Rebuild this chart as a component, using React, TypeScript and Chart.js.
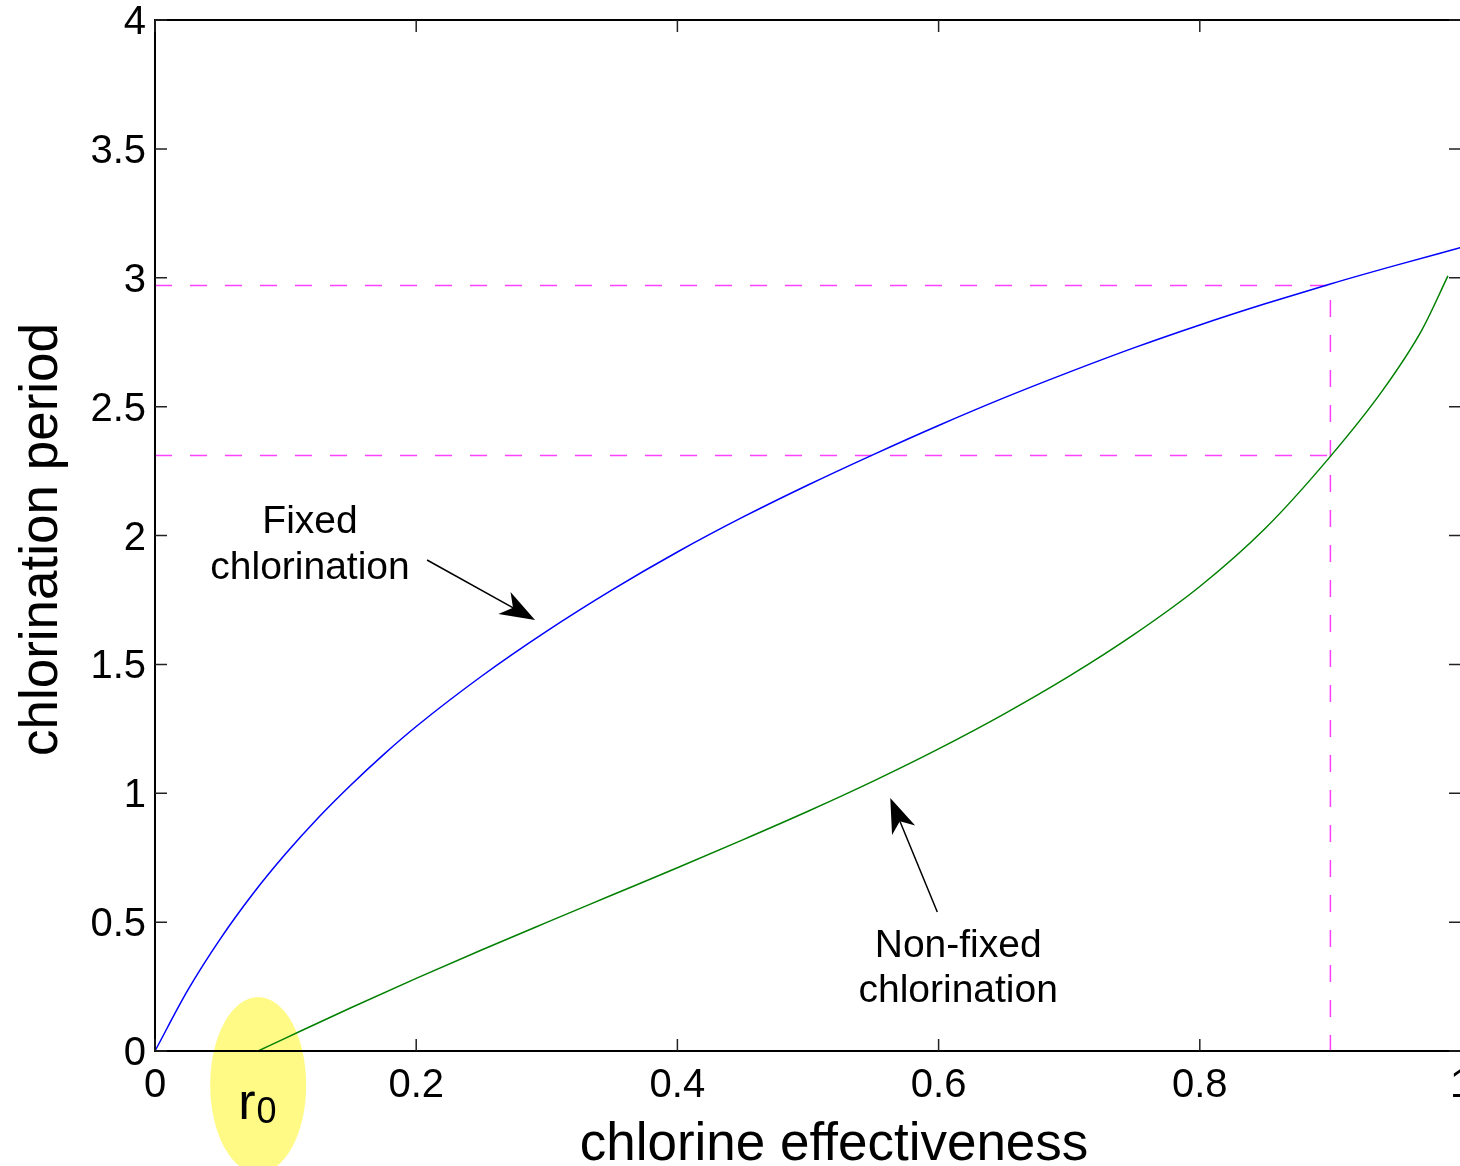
import React, { useEffect, useRef } from "react";
import { Chart, registerables } from "chart.js";

Chart.register(...registerables);

// ---- data ----
const fixedX = [0, 0.025, 0.05, 0.075, 0.1, 0.125, 0.15, 0.175, 0.2, 0.25, 0.3, 0.35, 0.4, 0.45, 0.5, 0.55, 0.6, 0.65, 0.7, 0.75, 0.8, 0.85, 0.9, 0.95, 1.0];
const fixedY = [0, 0.235, 0.435, 0.61, 0.765, 0.905, 1.032, 1.15, 1.259, 1.454, 1.629, 1.789, 1.936, 2.071, 2.196, 2.314, 2.427, 2.534, 2.634, 2.729, 2.817, 2.899, 2.976, 3.048, 3.117];

const nonFixedX = [0.079, 0.1, 0.15, 0.2, 0.25, 0.3, 0.35, 0.4, 0.45, 0.5, 0.55, 0.6, 0.65, 0.7, 0.75, 0.8, 0.85, 0.9, 0.94, 0.97, 0.99];
const nonFixedY = [0, 0.05, 0.168, 0.282, 0.392, 0.499, 0.605, 0.711, 0.819, 0.93, 1.047, 1.172, 1.307, 1.454, 1.617, 1.802, 2.027, 2.307, 2.563, 2.797, 3.007];

const xTicks = [0, 0.2, 0.4, 0.6, 0.8, 1];
const yTicks = [0, 0.5, 1, 1.5, 2, 2.5, 3, 3.5, 4];

const refX = 0.9;
const refYHigh = 2.97;
const refYLow = 2.31;
const r0Value = 0.079;

const xTitle = "chlorine effectiveness";
const yTitle = "chlorination period";
const fixedLabel = ["Fixed", "chlorination"];
const nonFixedLabel = ["Non-fixed", "chlorination"];

// ---- annotation anchors (data units) ----
const fixedText = { x: 0.1187, y1: 2.052, y2: 1.874 };
const fixedArrow = { x0: 0.2083, y0: 1.905, x1: 0.291, y1: 1.672 };
const nonFixedText = { x: 0.615, y1: 0.407, y2: 0.233 };
const nonFixedArrow = { x0: 0.599, y0: 0.539, x1: 0.563, y1: 0.982 };

const FONT = '"Liberation Sans", Arial, Helvetica, sans-serif';
const CANVAS_W = 1520;
const CANVAS_H = 1166;

const fmt = (v: number) => String(Math.round(v * 10) / 10);

function drawArrow(ctx: CanvasRenderingContext2D, x0: number, y0: number, x1: number, y1: number) {
  const ang = Math.atan2(y1 - y0, x1 - x0);
  const L = 35;
  const W = 12.5;
  const dx = Math.cos(ang), dy = Math.sin(ang);
  const px = -dy, py = dx;
  ctx.save();
  ctx.strokeStyle = "#000";
  ctx.lineWidth = 1.5;
  ctx.beginPath();
  ctx.moveTo(x0, y0);
  ctx.lineTo(x1 - dx * L * 0.7, y1 - dy * L * 0.7);
  ctx.stroke();
  ctx.fillStyle = "#000";
  ctx.beginPath();
  ctx.moveTo(x1, y1);
  ctx.lineTo(x1 - dx * L + px * W, y1 - dy * L + py * W);
  ctx.lineTo(x1 - dx * L * 0.72, y1 - dy * L * 0.72);
  ctx.lineTo(x1 - dx * L - px * W, y1 - dy * L - py * W);
  ctx.closePath();
  ctx.fill();
  ctx.restore();
}

const overlayPlugin = {
  id: "overlay",
  beforeDatasetsDraw(chart: any) {
    const ctx: CanvasRenderingContext2D = chart.ctx;
    const xs = chart.scales.x;
    const ys = chart.scales.y;
    const cx = xs.getPixelForValue(r0Value);
    const cy = ys.getPixelForValue(0) + 34;
    ctx.save();
    ctx.fillStyle = "#fffa86";
    ctx.beginPath();
    ctx.ellipse(cx, cy, 48, 88, 0, 0, Math.PI * 2);
    ctx.fill();
    ctx.restore();
  },
  afterDatasetsDraw(chart: any) {
    const ctx: CanvasRenderingContext2D = chart.ctx;
    const xs = chart.scales.x;
    const ys = chart.scales.y;
    const { left, right, top, bottom } = chart.chartArea;

    ctx.save();
    // box
    ctx.strokeStyle = "#000";
    ctx.lineWidth = 2;
    ctx.strokeRect(left, top, right - left, bottom - top);
    // inward ticks
    ctx.lineWidth = 1.5;
    ctx.strokeStyle = "#222";
    const TL = 12;
    ctx.beginPath();
    xTicks.forEach((v) => {
      const p = xs.getPixelForValue(v);
      ctx.moveTo(p, bottom);
      ctx.lineTo(p, bottom - TL);
      ctx.moveTo(p, top);
      ctx.lineTo(p, top + TL);
    });
    yTicks.forEach((v) => {
      const p = ys.getPixelForValue(v);
      ctx.moveTo(left, p);
      ctx.lineTo(left + TL, p);
      ctx.moveTo(right, p);
      ctx.lineTo(right - TL, p);
    });
    ctx.stroke();

    // annotations
    ctx.fillStyle = "#000";
    ctx.font = `39px ${FONT}`;
    ctx.textAlign = "center";
    ctx.textBaseline = "middle";
    ctx.fillText(fixedLabel[0], xs.getPixelForValue(fixedText.x), ys.getPixelForValue(fixedText.y1));
    ctx.fillText(fixedLabel[1], xs.getPixelForValue(fixedText.x), ys.getPixelForValue(fixedText.y2));
    ctx.fillText(nonFixedLabel[0], xs.getPixelForValue(nonFixedText.x), ys.getPixelForValue(nonFixedText.y1));
    ctx.fillText(nonFixedLabel[1], xs.getPixelForValue(nonFixedText.x), ys.getPixelForValue(nonFixedText.y2));

    drawArrow(
      ctx,
      xs.getPixelForValue(fixedArrow.x0),
      ys.getPixelForValue(fixedArrow.y0),
      xs.getPixelForValue(fixedArrow.x1),
      ys.getPixelForValue(fixedArrow.y1)
    );
    drawArrow(
      ctx,
      xs.getPixelForValue(nonFixedArrow.x0),
      ys.getPixelForValue(nonFixedArrow.y0),
      xs.getPixelForValue(nonFixedArrow.x1),
      ys.getPixelForValue(nonFixedArrow.y1)
    );

    // r0 label
    const rx = xs.getPixelForValue(r0Value) - 20;
    const rb = ys.getPixelForValue(0) + 68;
    ctx.textAlign = "left";
    ctx.textBaseline = "alphabetic";
    ctx.font = `52px ${FONT}`;
    ctx.fillText("r", rx, rb);
    const rw = ctx.measureText("r").width;
    ctx.font = `36px ${FONT}`;
    ctx.fillText("0", rx + rw + 1, rb + 4);
    ctx.restore();
  },
  afterDraw(chart: any) {
    const ctx: CanvasRenderingContext2D = chart.ctx;
    const { left, right, top, bottom } = chart.chartArea;
    ctx.save();
    ctx.fillStyle = "#000";
    ctx.font = `53px ${FONT}`;
    ctx.textAlign = "center";
    ctx.textBaseline = "alphabetic";
    ctx.fillText(xTitle, (left + right) / 2 + 26, bottom + 109);
    ctx.translate(57, (top + bottom) / 2 + 4);
    ctx.rotate(-Math.PI / 2);
    ctx.fillText(yTitle, 0, 0);
    ctx.restore();
  },
};

export default function App() {
  const ref = useRef<HTMLCanvasElement | null>(null);

  useEffect(() => {
    document.body.style.margin = "0";
    document.body.style.overflow = "hidden";
    const canvas = ref.current;
    if (!canvas) return;

    const toPts = (xs: number[], ys: number[]) => xs.map((x, i) => ({ x, y: ys[i] }));

    const tickFont = { family: FONT, size: 40, lineHeight: 1 };

    const zeroPad = (s: any) => {
      s.paddingTop = 0;
      s.paddingBottom = 0;
      s.paddingLeft = 0;
      s.paddingRight = 0;
    };

    const refStyle = {
      showLine: true,
      borderColor: "#ff40ff",
      borderWidth: 1.5,
      borderDash: [17, 18],
      pointRadius: 0,
    };

    const chart = new Chart(canvas, {
      type: "scatter",
      data: {
        datasets: [
          {
            label: "Fixed chlorination",
            data: toPts(fixedX, fixedY),
            showLine: true,
            borderColor: "#0000ff",
            borderWidth: 1.5,
            pointRadius: 0,
            cubicInterpolationMode: "monotone",
          },
          {
            label: "Non-fixed chlorination",
            data: toPts(nonFixedX, nonFixedY),
            showLine: true,
            borderColor: "#008000",
            borderWidth: 1.5,
            pointRadius: 0,
            cubicInterpolationMode: "monotone",
          },
          {
            label: "ref high",
            data: [
              { x: 0, y: refYHigh },
              { x: refX, y: refYHigh },
              { x: refX, y: 0 },
            ],
            ...refStyle,
          },
          {
            label: "ref low",
            data: [
              { x: 0, y: refYLow },
              { x: refX, y: refYLow },
            ],
            ...refStyle,
          },
        ],
      } as any,
      options: {
        animation: false,
        responsive: false,
        events: [],
        layout: { padding: { left: 0, top: 20, right: CANVAS_W - 1461, bottom: 0 } },
        plugins: { legend: { display: false }, tooltip: { enabled: false } },
        scales: {
          x: {
            type: "linear",
            min: 0,
            max: 1,
            afterFit: (s: any) => {
              s.height = 115;
              zeroPad(s);
            },
            afterBuildTicks: (s: any) => {
              s.ticks = xTicks.map((v) => ({ value: v }));
            },
            grid: { display: false, drawTicks: false },
            border: { display: false },
            ticks: {
              font: tickFont,
              color: "#000",
              padding: 15,
              maxRotation: 0,
              autoSkip: false,
              callback: (v: any) => fmt(Number(v)),
            },
          },
          y: {
            type: "linear",
            min: 0,
            max: 4,
            afterFit: (s: any) => {
              s.width = 155;
              zeroPad(s);
            },
            afterBuildTicks: (s: any) => {
              s.ticks = yTicks.map((v) => ({ value: v }));
            },
            grid: { display: false, drawTicks: false },
            border: { display: false },
            ticks: {
              font: tickFont,
              color: "#000",
              padding: 9,
              labelOffset: 3,
              autoSkip: false,
              callback: (v: any) => fmt(Number(v)),
            },
          },
        },
      } as any,
      plugins: [overlayPlugin],
    });

    return () => chart.destroy();
  }, []);

  return (
    <div style={{ position: "relative", width: 1460, height: 1166, overflow: "hidden", background: "#fff" }}>
      <canvas ref={ref} width={CANVAS_W} height={CANVAS_H} style={{ display: "block" }} />
    </div>
  );
}
